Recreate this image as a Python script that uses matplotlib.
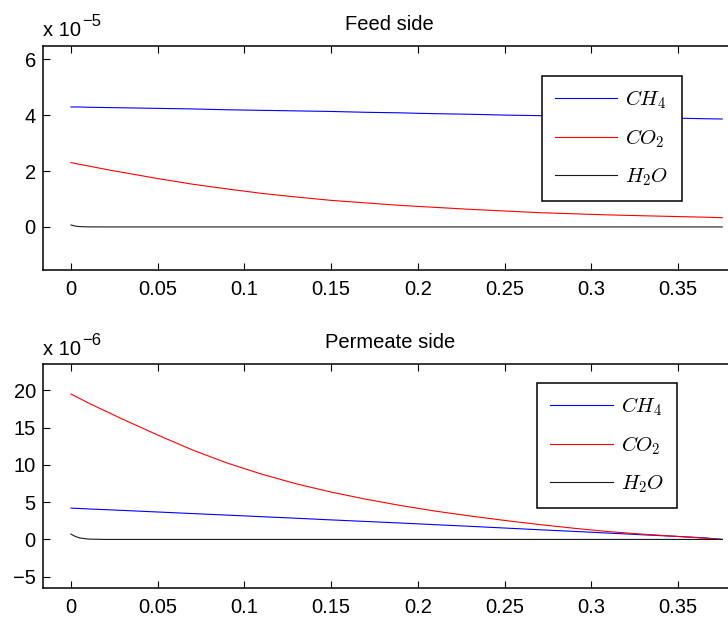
import numpy as np
import matplotlib
matplotlib.use('Agg')
import matplotlib.pyplot as plt
from matplotlib.ticker import FuncFormatter, FormatStrFormatter

plt.rcParams['font.family'] = ['Liberation Sans', 'DejaVu Sans']
plt.rcParams['mathtext.fontset'] = 'cm'

# axial position along the module
z = [0, 0.0025, 0.005, 0.01, 0.02, 0.03, 0.05, 0.07, 0.09, 0.11, 0.13, 0.15,
     0.17, 0.19, 0.21, 0.23, 0.25, 0.27, 0.29, 0.31, 0.33, 0.35, 0.365, 0.3755]

# feed side flows (x 1e-5)
feed_ch4 = [4.29, 4.29, 4.29, 4.28, 4.27, 4.26, 4.24, 4.22, 4.19, 4.17, 4.15, 4.13,
            4.10, 4.08, 4.05, 4.03, 4.00, 3.98, 3.96, 3.93, 3.91, 3.89, 3.87, 3.86]
feed_co2 = [2.30, 2.27, 2.24, 2.18, 2.06, 1.95, 1.73, 1.53, 1.36, 1.20, 1.07, 0.95,
            0.86, 0.77, 0.70, 0.63, 0.57, 0.51, 0.47, 0.43, 0.40, 0.37, 0.35, 0.33]
feed_h2o = [0.07, 0.03, 0.012, 0.002, 0, 0, 0, 0, 0, 0, 0, 0,
            0, 0, 0, 0, 0, 0, 0, 0, 0, 0, 0, 0]

# permeate side flows (x 1e-6)
perm_ch4 = [4.20, 4.17, 4.15, 4.09, 3.99, 3.89, 3.68, 3.47, 3.26, 3.05, 2.84, 2.62,
            2.41, 2.20, 1.98, 1.76, 1.53, 1.30, 1.08, 0.85, 0.62, 0.40, 0.22, 0.0]
perm_co2 = [19.5, 19.2, 18.9, 18.3, 17.2, 16.1, 14.0, 12.0, 10.25, 8.75, 7.45, 6.35,
            5.4, 4.55, 3.8, 3.15, 2.55, 2.0, 1.5, 1.05, 0.7, 0.4, 0.17, 0.0]
perm_h2o = [0.72, 0.4, 0.2, 0.05, 0, 0, 0, 0, 0, 0, 0, 0,
            0, 0, 0, 0, 0, 0, 0, 0, 0, 0, 0, 0]

species = ['$CH_4$', '$CO_2$', '$H_2O$']
colors = ['#0000ff', '#ff0000', '#1a1a1a']
xticks = [0, 0.05, 0.1, 0.15, 0.2, 0.25, 0.3, 0.35]

W, H = 728, 619
fig = plt.figure(figsize=(W / 100, H / 100), dpi=100)


def minus(s):
    return s.replace('-', '\u2212')


def panel(rect, series, scale, exp, ylim, yticks, title, leg_xy, exp_y):
    ax = fig.add_axes(rect)
    zz = np.array(z)
    for vals, c, lab in zip(series, colors, species):
        ax.plot(zz, np.array(vals) * scale, color=c, lw=0.8, label=lab)
    ax.set_xlim(-0.0163, 0.3840)
    ax.set_ylim(ylim[0] * scale, ylim[1] * scale)
    ax.set_xticks(xticks)
    ax.set_yticks([t * scale for t in yticks])
    ax.xaxis.set_major_formatter(FormatStrFormatter('%g'))
    ax.yaxis.set_major_formatter(FuncFormatter(lambda v, _: minus('%g' % round(v / scale, 6))))
    ax.spines['right'].set_visible(False)
    for s in ['top', 'bottom', 'left']:
        ax.spines[s].set_linewidth(1.1)
    ax.tick_params(direction='in', length=5, width=0.8, labelsize=14.5,
                   top=True, right=False)
    ax.tick_params(axis='x', pad=7)
    ax.tick_params(axis='y', pad=5)
    ax.set_title(title, fontsize=14.5, pad=11.5)
    leg = ax.legend(loc='upper left', bbox_to_anchor=leg_xy, fontsize=15,
                    handlelength=3.0, handletextpad=0.4, labelspacing=0.78,
                    borderpad=0.62, borderaxespad=0, fancybox=False,
                    framealpha=1, edgecolor='black')
    leg.get_frame().set_linewidth(1.1)
    fig.text(42.7 / W, 1 - exp_y / H, 'x 10', fontsize=14.5, va='baseline')
    fig.text(82.5 / W, 1 - (exp_y - 10) / H, minus('-%d' % exp), fontsize=12,
             va='baseline')
    return ax


left = 42.7 / W
width = (737 - 42.7) / W
panel([left, 1 - 270 / H, width, (270 - 46.3) / H],
      [feed_ch4, feed_co2, feed_h2o], 1e-5, 5, (-1.54, 6.46), [0, 2, 4, 6],
      'Feed side', (0.7187, 0.8686), 36.5)
panel([left, 1 - 588.3 / H, width, (588.3 - 363.7) / H],
      [perm_ch4, perm_co2, perm_h2o], 1e-6, 6, (-6.55, 23.56),
      [-5, 0, 5, 10, 15, 20], 'Permeate side', (0.7124, 0.9154), 355)

fig.savefig('out.png', dpi=100)
